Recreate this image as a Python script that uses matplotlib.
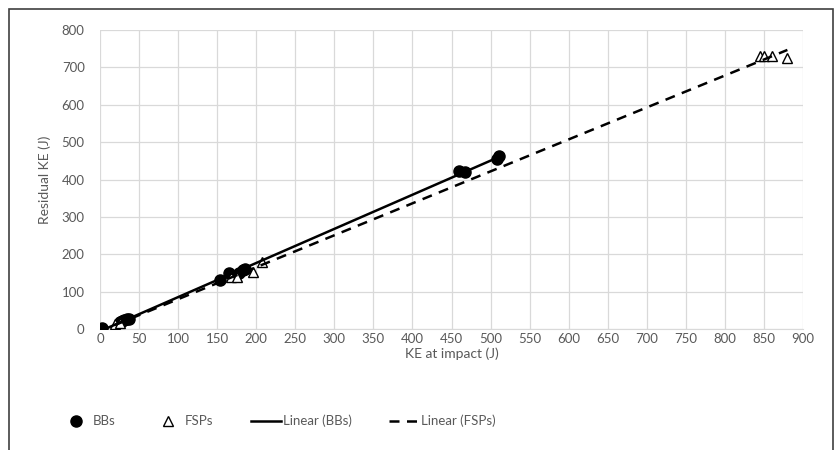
#!/usr/bin/env python3

import numpy as np
from matplotlib import pyplot as plt
from matplotlib.lines import Line2D
from matplotlib.patches import Rectangle

plt.rcParams['font.family'] = ['Lato', 'DejaVu Sans']

# BBs (ball bearings)
bb_ke = [3, 25, 28, 31, 34, 37, 153, 165, 172, 178, 183, 186, 460, 467, 508, 511]
bb_res = [2, 20, 22, 24, 26, 28, 130, 150, 143, 150, 157, 160, 422, 420, 455, 463]

# FSPs
fsp_ke = [19, 25, 168, 175, 196, 207, 845, 850, 860, 880]
fsp_res = [14, 17, 140, 138, 152, 178, 730, 730, 730, 726]

xticks = np.arange(0, 901, 50)
yticks = np.arange(0, 801, 100)

grey = '#595959'


def trend(x, y):
    m, b = np.polyfit(x, y, 1)
    xs = np.array([min(x), max(x)])
    return xs, m * xs + b


def main():
    fig = plt.figure(figsize=(8.36, 4.5), dpi=100)
    ax = fig.add_axes([100 / 836, 1 - 329 / 450, 703 / 836, 299 / 450])

    ax.plot(bb_ke, bb_res, 'o', color='black', markersize=8, zorder=3)
    ax.plot(fsp_ke, fsp_res, '^', markerfacecolor='white', markeredgecolor='black',
            markeredgewidth=1.0, markersize=7, zorder=3)

    xs, ys = trend(bb_ke, bb_res)
    ax.plot(xs, ys, '-', color='black', lw=1.8, zorder=4)
    xs, ys = trend(fsp_ke, fsp_res)
    ax.plot(xs, ys, '--', color='black', lw=1.8, dashes=(4, 3), zorder=4)

    ax.set_xlim(0, 900)
    ax.set_ylim(0, 800)
    ax.set_xticks(xticks)
    ax.set_yticks(yticks)
    ax.grid(True, color='#d9d9d9', lw=0.9)
    ax.set_axisbelow(True)
    for s in ['top', 'right', 'left']:
        ax.spines[s].set_visible(False)
    ax.spines['bottom'].set_color('#d9d9d9')
    ax.tick_params(axis='y', length=0, labelsize=9.5, colors=grey, pad=11)
    ax.tick_params(axis='x', length=0, labelsize=9.5, colors=grey, pad=3)
    ax.set_xlabel('KE at impact (J)', fontsize=10, color=grey, labelpad=2)
    ax.set_ylabel('Residual KE (J)', fontsize=10, color=grey, labelpad=8)

    handles = [
        Line2D([], [], ls='', marker='o', color='black', markersize=8),
        Line2D([], [], ls='', marker='^', markerfacecolor='white',
               markeredgecolor='black', markersize=7),
        Line2D([], [], ls='-', color='black', lw=1.8),
        Line2D([], [], ls='--', color='black', lw=1.8, dashes=(4, 3)),
    ]
    labels = ['BBs', 'FSPs', 'Linear (BBs)', 'Linear (FSPs)']
    leg = fig.legend(handles, labels, loc='center left',
                     bbox_to_anchor=(49 / 836, 1 - 421 / 450),
                     ncol=4, frameon=False, fontsize=9.5, handlelength=2.3,
                     handletextpad=0.15, columnspacing=2.8)
    for t in leg.get_texts():
        t.set_color(grey)

    fig.add_artist(Rectangle((9 / 836, -0.05), 824 / 836, 1.05 - 9 / 450,
                             transform=fig.transFigure, fill=False,
                             edgecolor='#404040', lw=1.2))

    plt.savefig('out.png', dpi=100)


if __name__ == '__main__':
    main()
